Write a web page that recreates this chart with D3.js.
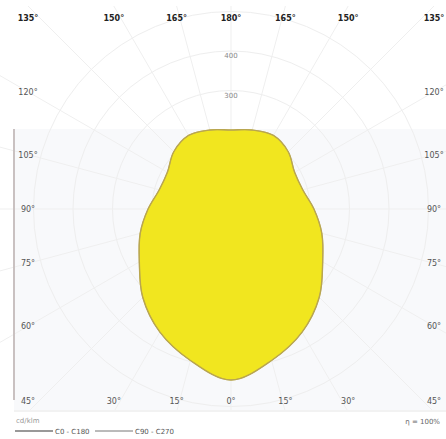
<!DOCTYPE html>
<html>
<head>
<meta charset="utf-8">
<script src="https://cdn.jsdelivr.net/npm/d3@7"></script>
<style>
  body { margin: 0; background: #fff; }
  svg { display: block; font-family: "DejaVu Sans", sans-serif; }
</style>
</head>
<body>
<svg id="chart" width="446" height="439"></svg>
<script>
// gamma angles (deg, 0 = straight down) and luminous intensity in cd/klm
const gammaAngles = [0, 15, 30, 45, 60, 75, 90, 105, 120, 135, 150, 165, 180];
const c0c180 = [433, 397, 360, 316, 268, 238, 210, 188, 186, 205, 215, 207, 200];
const c90c270 = [433, 397, 360, 316, 268, 238, 210, 188, 186, 205, 215, 207, 200];
const radialTicks = [100, 200, 300, 400];
const seriesNames = ["C0 - C180", "C90 - C270"];

const svg = d3.select("#chart");
const cx = 231, cy = 209, half = 203;

const r = d3.scaleLinear().domain([0, 100]).range([0, 39.5]);
const rad = d => d * Math.PI / 180;

// plot background (lower band)
svg.append("rect")
    .attr("x", 14).attr("y", 129)
    .attr("width", 432).attr("height", 281)
    .attr("fill", "#f8f9fb");

svg.append("defs").append("clipPath").attr("id", "frame")
    .append("rect").attr("x", 0).attr("y", 6).attr("width", 446).attr("height", 404);

const grid = svg.append("g")
    .attr("clip-path", "url(#frame)")
    .append("g")
    .attr("transform", `translate(${cx},${cy})`);

grid.selectAll(".ring")
    .data(radialTicks.concat([500]))
    .enter().append("circle")
    .attr("class", "ring")
    .attr("r", d => r(d))
    .attr("fill", "none")
    .attr("stroke", "#eeeeee")
    .attr("stroke-width", 1);

grid.selectAll(".spoke")
    .data(d3.range(0, 360, 15))
    .enter().append("line")
    .attr("class", "spoke")
    .attr("x1", 0).attr("y1", 0)
    .attr("x2", d => Math.sin(rad(d)) * 400)
    .attr("y2", d => Math.cos(rad(d)) * 400)
    .attr("stroke", "#efefef")
    .attr("stroke-width", 1);

// radial value labels along the 180° axis
grid.selectAll(".rlab")
    .data(radialTicks)
    .enter().append("text")
    .attr("class", "rlab")
    .attr("x", 0)
    .attr("y", d => -r(d) + 7)
    .attr("text-anchor", "middle")
    .attr("font-size", 7)
    .attr("fill", "#888")
    .text(d => d);

// intensity curves: left half is angle PI+g, right half PI-g (d3 radial angle from 12 o'clock)
const toPoints = vals => {
    const pts = [];
    gammaAngles.forEach((g, i) => pts.push([Math.PI - rad(g), r(vals[i])]));
    for (let i = gammaAngles.length - 1; i >= 0; i--) {
        const g = gammaAngles[i];
        if (g === 0 || g === 180) continue;
        pts.push([Math.PI + rad(g), r(vals[i])]);
    }
    return pts.sort((a, b) => a[0] - b[0]);
};

const radial = d3.lineRadial()
    .angle(d => d[0])
    .radius(d => d[1])
    .curve(d3.curveCatmullRomClosed);

const plot = svg.append("g").attr("transform", `translate(${cx},${cy})`);

plot.append("path")
    .attr("d", radial(toPoints(c0c180)))
    .attr("fill", "#f1e61f")
    .attr("stroke", "#b9a650")
    .attr("stroke-width", 1.4);

plot.append("path")
    .attr("d", radial(toPoints(c90c270)))
    .attr("fill", "none")
    .attr("stroke", "#b9a650")
    .attr("stroke-width", 0.8);

// left axis line and bottom rule
svg.append("line")
    .attr("x1", 14).attr("x2", 14).attr("y1", 129).attr("y2", 400)
    .attr("stroke", "#c9c1c1").attr("stroke-width", 2);
svg.append("line")
    .attr("x1", 14).attr("x2", 446).attr("y1", 411).attr("y2", 411)
    .attr("stroke", "#eeeeee").attr("stroke-width", 1.5);

// angle labels where the spokes meet the frame
const angleLabels = [];
gammaAngles.forEach(g => {
    const sides = (g === 0 || g === 180) ? [1] : [-1, 1];
    sides.forEach(s => {
        const dx = s * Math.sin(rad(g)), dy = Math.cos(rad(g));
        const t = Math.min(Math.abs(dx) > 1e-6 ? half / Math.abs(dx) : Infinity,
                           Math.abs(dy) > 1e-6 ? half / Math.abs(dy) : Infinity);
        let x = cx + dx * t, y = cy + dy * t;
        let edge = "side";
        if (Math.abs(dy * t) >= half - 0.5) edge = dy < 0 ? "top" : "bottom";
        if (edge === "top") y = 21;
        else if (edge === "bottom") y = 404;
        else y = y + 3;
        angleLabels.push({g, x, y, edge});
    });
});

svg.selectAll(".alab")
    .data(angleLabels)
    .enter().append("text")
    .attr("class", "alab")
    .attr("x", d => d.x)
    .attr("y", d => d.y)
    .attr("text-anchor", "middle")
    .attr("font-size", 8)
    .attr("font-weight", d => d.edge === "top" ? "bold" : "normal")
    .attr("fill", d => d.edge === "top" ? "#222" : "#555")
    .text(d => d.g + "°");

// unit, efficiency and legend
svg.append("text")
    .attr("x", 16).attr("y", 423)
    .attr("font-size", 7).attr("fill", "#999")
    .text("cd/klm");

svg.append("text")
    .attr("x", 440).attr("y", 424)
    .attr("text-anchor", "end")
    .attr("font-size", 7).attr("fill", "#666")
    .text("η = 100%");

const legend = svg.append("g").attr("transform", "translate(15,431)");
const legendItems = legend.selectAll("g")
    .data(seriesNames)
    .enter().append("g")
    .attr("transform", (d, i) => `translate(${i * 80},0)`);
legendItems.append("line")
    .attr("x1", 0).attr("x2", 38).attr("y1", 0).attr("y2", 0)
    .attr("stroke", "#777").attr("stroke-width", (d, i) => i === 0 ? 1.5 : 1);
legendItems.append("text")
    .attr("x", 40).attr("y", 3)
    .attr("font-size", 7).attr("fill", "#555")
    .text(d => d);
</script>
</body>
</html>
